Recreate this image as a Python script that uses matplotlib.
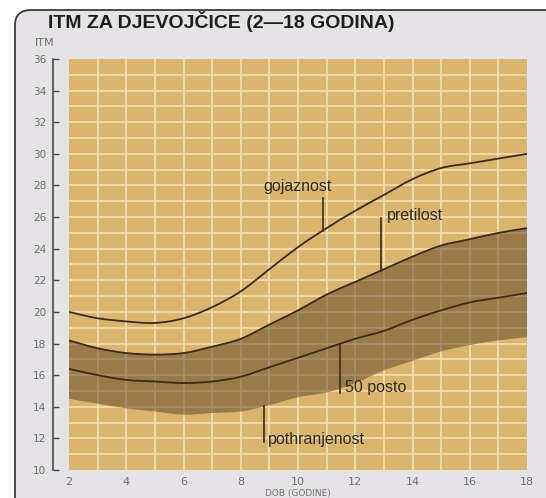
import numpy as np
import matplotlib
matplotlib.use('Agg')
import matplotlib.pyplot as plt
from matplotlib.patches import FancyBboxPatch, PathPatch
from matplotlib.path import Path

# BMI percentile curves for girls
ages = [2, 3, 4, 5, 6, 7, 8, 9, 10, 11, 12, 13, 14, 15, 16, 17, 18]
gojaznost = [20.0, 19.6, 19.4, 19.3, 19.6, 20.3, 21.3, 22.7, 24.1, 25.3, 26.4, 27.4, 28.4, 29.1, 29.4, 29.7, 30.0]
pretilost = [18.2, 17.7, 17.4, 17.3, 17.4, 17.8, 18.3, 19.2, 20.1, 21.1, 21.9, 22.7, 23.5, 24.2, 24.6, 25.0, 25.3]
posto50 = [16.4, 16.0, 15.7, 15.6, 15.5, 15.6, 15.9, 16.5, 17.1, 17.7, 18.3, 18.8, 19.5, 20.1, 20.6, 20.9, 21.2]
pothranjenost = [14.5, 14.2, 13.9, 13.7, 13.5, 13.6, 13.7, 14.1, 14.6, 14.9, 15.5, 16.3, 16.9, 17.5, 17.9, 18.2, 18.4]

y_ticks = [10, 12, 14, 16, 18, 20, 22, 24, 26, 28, 30, 32, 34, 36]
x_ticks = [2, 4, 6, 8, 10, 12, 14, 16, 18]


def smooth_path(xs, ys):
    # Catmull-Rom through the points, written as cubic bezier segments
    pts = np.column_stack([xs, ys]).astype(float)
    verts = [pts[0]]
    codes = [Path.MOVETO]
    n = len(pts)
    for i in range(n - 1):
        p0 = pts[max(i - 1, 0)]
        p1 = pts[i]
        p2 = pts[i + 1]
        p3 = pts[min(i + 2, n - 1)]
        verts += [p1 + (p2 - p0) / 6, p2 - (p3 - p1) / 6, p2]
        codes += [Path.CURVE4] * 3
    return np.array(verts), codes


W, H = 546, 498
fig = plt.figure(figsize=(W / 100, H / 100), dpi=100)
fig.patch.set_facecolor('white')

# page background (photo of a book page)
page = FancyBboxPatch((15 / W, -0.05), 1.2, 1 - 10 / H + 0.05,
                      boxstyle='round,pad=0,rounding_size=0.03',
                      transform=fig.transFigure, facecolor='#e5e3e6',
                      edgecolor='#3a3a3a', linewidth=1.3, zorder=-10)
fig.patches.append(page)

ax = fig.add_axes([69 / W, 1 - 470 / H, (527 - 69) / W, (470 - 59) / H])
ax.set_zorder(1)
ax.set_facecolor('#d9b56d')
ax.set_xlim(2, 18)
ax.set_ylim(10, 36)

# cream grid, one cell per year / BMI unit
for xv in range(3, 18):
    ax.axvline(xv, color='#f2e0b2', lw=1.2, zorder=1)
for yv in range(11, 36):
    ax.axhline(yv, color='#f2e0b2', lw=1.2, zorder=1)

# shaded band between the lower edge and the "pretilost" curve
v_top, c_top = smooth_path(ages, pretilost)
v_bot, c_bot = smooth_path(ages[::-1], pothranjenost[::-1])
band_verts = np.vstack([v_top, v_bot, v_top[:1]])
band_codes = c_top + [Path.LINETO] + c_bot[1:] + [Path.CLOSEPOLY]
ax.add_patch(PathPatch(Path(band_verts, band_codes), facecolor='#5a4024', alpha=0.5,
                       lw=0, zorder=2))

line_c = '#3d2a18'
for series in (gojaznost, pretilost, posto50):
    v, c = smooth_path(ages, series)
    ax.add_patch(PathPatch(Path(v, c), facecolor='none', edgecolor=line_c, lw=1.3, zorder=3))

font = ['Liberation Sans', 'DejaVu Sans']
txt_c = '#2e2a26'

# labels with pointer lines down/up to the curves
gx = 10.87
ax.plot([gx, gx], [np.interp(gx, ages, gojaznost), 27.2], color=line_c, lw=1.2, zorder=4)
ax.text(10.0, 27.95, 'gojaznost', ha='center', va='center', fontsize=11.5, color=txt_c, family=font, zorder=5)

px = 12.9
ax.plot([px, px], [np.interp(px, ages, pretilost), 25.95], color=line_c, lw=1.2, zorder=4)
ax.text(13.1, 26.1, 'pretilost', ha='left', va='center', fontsize=11.5, color=txt_c, family=font, zorder=5)

mx = 11.47
ax.plot([mx, mx], [np.interp(mx, ages, posto50), 14.9], color=line_c, lw=1.2, zorder=4)
ax.text(11.64, 15.2, '50 posto', ha='left', va='center', fontsize=11.5, color=txt_c, family=font, zorder=5)

tx = 8.81
ax.plot([tx, tx], [np.interp(tx, ages, pothranjenost), 11.8], color=line_c, lw=1.2, zorder=4)
ax.text(8.95, 11.95, 'pothranjenost', ha='left', va='center', fontsize=11.5, color=txt_c, family=font, zorder=5)

# axis styling
for s in ('top', 'right', 'bottom'):
    ax.spines[s].set_visible(False)
ax.spines['left'].set_position(('outward', 11.5))
ax.spines['left'].set_color('#4a4a4a')
ax.spines['left'].set_linewidth(1.2)
ax.set_yticks(y_ticks)
ax.set_xticks(x_ticks)
ax.tick_params(axis='y', direction='in', length=4, width=1.0, color='#4a4a4a',
               labelsize=7.5, labelcolor='#707070', pad=5)
ax.tick_params(axis='x', length=0, labelsize=8, labelcolor='#707070', pad=5)

fig.text(48 / W, 1 - 22 / H, 'ITM ZA DJEVOJČICE (2—18 GODINA)', ha='left', va='center',
         fontsize=14, fontweight='bold', color='#1e1e1e', family=['Liberation Sans', 'DejaVu Sans'])
fig.text(35 / W, 1 - 43 / H, 'ITM', ha='left', va='center', fontsize=8, color='#707070')
fig.text(298 / W, 1 - 493 / H, 'DOB (GODINE)', ha='center', va='center', fontsize=6.5, color='#707070')

fig.savefig('out.png', dpi=100)
